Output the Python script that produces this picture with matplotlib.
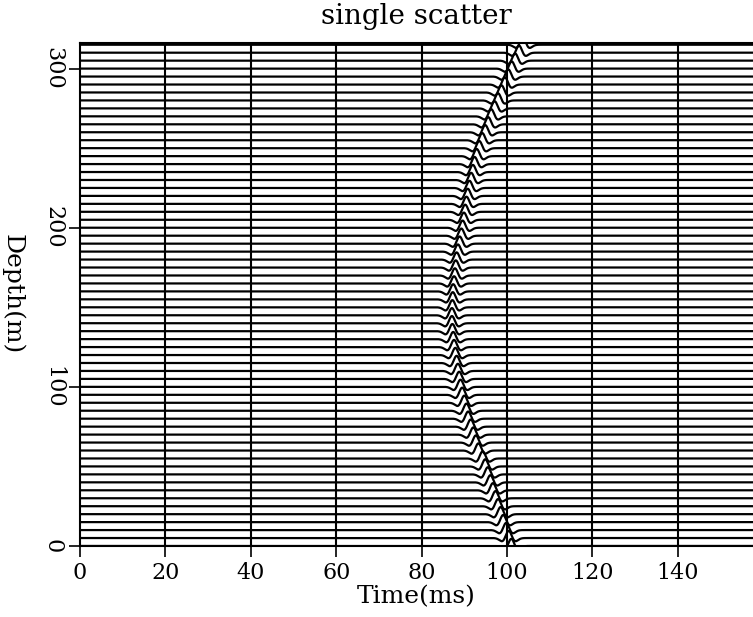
import numpy as np
import matplotlib
matplotlib.use("Agg")
import matplotlib.pyplot as plt

plt.rcParams['font.family'] = ['DejaVu Serif']

# receiver depths (m), one trace every 5 m
depths = list(range(0, 320, 5))

# arrival time (ms) of the scattered event on each trace
arrivals = [101.0, 100.4, 99.8, 99.1, 98.5, 97.9, 97.3, 96.7, 96.1, 95.5,
            94.9, 94.3, 93.3, 92.7, 92.1, 91.5, 90.9, 90.5, 90.0, 89.5,
            89.1, 88.8, 88.5, 88.2, 87.9, 87.6, 87.4, 87.2, 87.1, 87.1,
            87.2, 87.3, 87.4, 87.6, 87.8, 88.0, 88.2, 88.5, 88.9, 89.3,
            89.6, 89.9, 90.2, 90.5, 90.8, 91.2, 91.6, 92.0, 92.4, 92.9,
            93.5, 94.2, 94.9, 95.6, 96.3, 97.1, 97.9, 98.7, 99.5, 100.3,
            101.1, 101.9, 102.8, 103.7]

xticks = [0, 20, 40, 60, 80, 100, 120, 140]
yticks = [0, 100, 200, 300]

title = "single scatter"
xlabel = "Time(ms)"
ylabel = "Depth(m)"

fig = plt.figure(figsize=(7.53, 6.17), dpi=100)
ax = fig.add_axes([0.1062, 0.1151, 0.8938, 0.815])

t = np.linspace(0, 160, 4001)
amp = 4.5
f = 0.24  # wavelet peak frequency (1/ms)
for z, ta in zip(depths, arrivals):
    tau = t - ta
    arg = (np.pi * f * tau) ** 2
    w = (1 - 2 * arg) * np.exp(-arg)
    ax.plot(t, z + amp * w, color='black', lw=1.6)

for xv in xticks[1:]:
    ax.axvline(xv, color='black', lw=1.5)

ax.set_xlim(0, 157.6)
ax.set_ylim(0, 316)
ax.set_xticks(xticks)
ax.set_yticks(yticks)
ax.set_yticklabels([str(v) for v in yticks], rotation=-90, va='center')
ax.tick_params(direction='out', length=8, width=1.2, labelsize=16)
ax.spines['right'].set_visible(False)
for s in ['left', 'bottom', 'top']:
    ax.spines[s].set_linewidth(1.5)

ax.set_title(title, fontsize=20, pad=14)
ax.set_xlabel(xlabel, fontsize=18, labelpad=1)
ax.set_ylabel(ylabel, fontsize=18, rotation=-90, labelpad=30)

fig.savefig("out.png", dpi=100)
